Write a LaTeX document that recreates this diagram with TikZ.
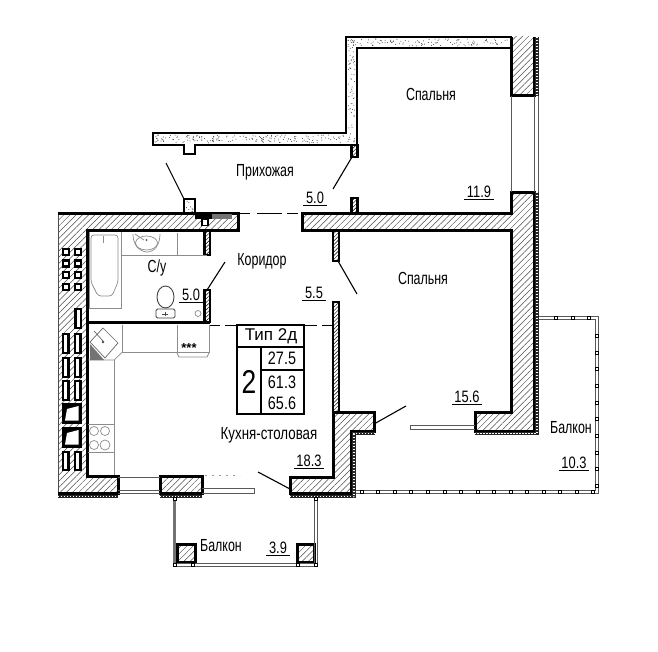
\documentclass[tikz,border=0pt]{standalone}
\usepackage{fontspec}
\setmainfont[FakeStretch=0.71]{Liberation Sans}
\newfontfamily\numfont[FakeStretch=0.78]{Liberation Sans}
\newfontfamily\tabfont[FakeStretch=0.8]{Liberation Sans}
\newfontfamily\kufont[FakeStretch=0.76]{Liberation Sans}
\newfontfamily\tipfont{Liberation Sans}
\usetikzlibrary{patterns.meta}
\tikzset{
  x=1pt,y=-1pt,
  hatching/.style={pattern={Lines[angle=45,distance=4.4pt,line width=.5pt]},pattern color=black!70},
  wall/.style={line width=3pt,line join=miter,hatching},
  thick wall/.style={line width=3pt,line join=miter},
  plain wall/.style={line width=1.6pt,line join=miter,fill=white},
  strip/.style={preaction={draw,line width=3.6pt,black!85,dash pattern=},white,line width=1.5pt,dash pattern=on 1.2pt off 1.8pt},
  fixture/.style={line width=.7pt,black!45},
  winline/.style={line width=.8pt,black!65},
  doorline/.style={line width=1.1pt},
  brick/.style={line width=2.2pt,fill=white},
  room/.style={font=\fontsize{17.5}{17.5}\selectfont,inner sep=0pt},
  area/.style={font=\numfont\fontsize{16.5}{16.5}\selectfont,inner sep=0pt},
  tabnum/.style={font=\tabfont\fontsize{18}{18}\selectfont,inner sep=0pt},
  mark box/.style={line width=.9pt,fill=white},
  table/.style={line width=1.4pt}
}
\newcommand{\areatext}[4]{% name, x, y, text
  \node[area] (#1) at (#2,#3) {#4};
  \draw[line width=.8pt] ([xshift=-2.5pt,yshift=-1pt]#1.south west) -- ([xshift=2.5pt,yshift=-1pt]#1.south east);
}
\begin{document}
\begin{tikzpicture}
\useasboundingbox (0,0) rectangle (658,652);
\fill[white] (0,0) rectangle (658,652);

% concrete walls with speckle
\draw[plain wall] (153,133) -- (346,133) -- (346,37) -- (511,37) -- (511,48) -- (357,48) -- (357,145) -- (195,145) -- (195,154) -- (184,154) -- (184,145) -- (153,145) -- cycle;
\draw[plain wall] (184,213) -- (184,199) -- (195,199) -- (195,213);
\pgfmathsetseed{11}
\foreach \i in {1,...,170}{
  \pgfmathsetmacro{\px}{155+rnd*190}\pgfmathsetmacro{\py}{135+rnd*8}
  \fill[black!75] (\px,\py) circle (.5);
}
\foreach \i in {1,...,70}{
  \pgfmathsetmacro{\px}{348+rnd*7}\pgfmathsetmacro{\py}{40+rnd*102}
  \fill[black!75] (\px,\py) circle (.5);
}
\foreach \i in {1,...,110}{
  \pgfmathsetmacro{\px}{350+rnd*159}\pgfmathsetmacro{\py}{39+rnd*7}
  \fill[black!75] (\px,\py) circle (.5);
}
\foreach \i in {1,...,10}{
  \pgfmathsetmacro{\px}{186+rnd*7}\pgfmathsetmacro{\py}{201+rnd*11}
  \fill[black!75] (\px,\py) circle (.5);
}

% exterior walls: left part
\fill[hatching]
  (58,213) -- (238,213) -- (238,232) -- (86,232) -- (86,476) -- (118,476) -- (118,493) -- (58,493) -- cycle;
\draw[line width=.7pt,black!70] (58,213) -- (58,493);
\draw[thick wall] (58,214) -- (238,214) -- (238,231) -- (87,231) -- (87,322) -- (210,322);
\draw[thick wall] (87,322) -- (87,476) -- (118,476) -- (118,493) -- (58,493);
\draw[strip] (58,496.5) -- (118,496.5);

\draw[wall] (160,476) rectangle (202,493);
\draw[strip] (160,496.5) -- (202,496.5);

% window in kitchen
\draw[winline] (118,477) -- (160,477);
\draw[winline] (118,490) -- (160,490);
\draw[winline] (118,493.5) -- (160,493.5);
\draw[winline] (202,488) -- (254.5,488) -- (254.5,493) -- (202,493);
\draw[black!40,line width=.7pt,dash pattern=on 2pt off 5pt] (205,475.5) -- (240,475.5);

% corridor wall to the right
\fill[hatching]
 (302,213) -- (511,213) -- (511,192) -- (534,192) -- (534,431) -- (475,431) -- (475,412) -- (511,412) -- (511,231) -- (302,231) -- cycle;
\draw[thick wall] (302,231) -- (302,214) -- (511,214) -- (511,192.5) -- (534,192.5) -- (534,431) -- (475,431) -- (475,412) -- (511,412) -- (511,231) -- cycle;
\draw[strip] (537,192) -- (537,433.5) -- (475,433.5);
\draw[wall] (511,37) -- (511,96) -- (534,96) -- (534,37);
\draw[strip] (537,37) -- (537,96);
\draw[winline] (511,96) -- (511,192);
\draw[winline] (534,96) -- (534,192);
\draw[winline] (538.5,96) -- (538.5,192);

% entry opening and dashes
\draw[line width=1pt,dash pattern=on 10pt off 7pt on 25pt off 5pt on 11pt off 30pt] (240,214) -- (298,214);
\draw[line width=1pt,dash pattern=on 10pt off 5pt on 92pt off 5pt on 11pt off 30pt] (210,325) -- (333,325);

% door block in hall wall
\fill[black] (195,213) rectangle (212,219);
\fill[black!55] (212,214) rectangle (232,219);
\draw[line width=1.6pt,fill=white] (202,219.5) rectangle (208,225.5);

% partitions
\foreach \a/\b/\c/\d in {204.5/231/210/255,204.5/290/210/322,333/231/339/261,333/302/339/412,351.5/145/357.5/157,351.5/198/357.5/213}{
  \draw[line width=2.3pt,pattern={Lines[angle=45,distance=2.6pt,line width=.45pt]},pattern color=black] (\a,\b) rectangle (\c,\d);
}

% block at balcony door, lower right
\draw[wall] (333,412) -- (374,412) -- (374,431) -- (351,431) -- (351,493) -- (290,493) -- (290,477) -- (333,477) -- cycle;
\draw[strip] (375,433.5) -- (354,433.5) -- (354,496.5) -- (290,496.5);

% bedroom balcony door
\draw[winline] (410,425) -- (475,425);
\draw[winline] (410,429) -- (475,429);
\draw[winline] (410,425) -- (410,429);

% door leaves
\draw[doorline] (166,163) -- (184,199);
\draw[doorline] (352,157) -- (333,189);
\draw[doorline] (207,290) -- (225,262);
\draw[doorline] (338,261) -- (357,294);
\draw[doorline] (374,424) -- (406,406);
\draw[doorline] (258,472) -- (290,489);

% big balcony
\draw[winline] (356,490.3) -- (595.3,490.3) -- (595.3,319);
\draw[winline] (356,493.3) -- (598.3,493.3) -- (598.3,316);
\draw[winline] (539,316) -- (598.3,316);
\draw[winline] (539,319) -- (595.3,319);
\foreach \i in {0,...,14}{
  \draw[mark box] ({361.7+16.55*\i-1.5},490.3) rectangle ++(3,3);
}
\foreach \y in {336,352.5,369,386,402.5,419,436,453,469,486}{
  \draw[mark box] (595.3,\y-1.5) rectangle ++(3,3);
}
\foreach \x in {556,573,589}{
  \draw[mark box] (\x-1.5,316) rectangle ++(3,3);
}

% small balcony
\draw[wall] (177,544) rectangle (195,562);
\draw[wall] (297,544) rectangle (314,562);
\draw[black!55,line width=2.2pt] (174.5,500) -- (174.5,564);
\draw[winline] (314,500) -- (314,564);
\draw[winline] (317,500) -- (317,564);
\draw[winline] (175,563.3) -- (317,563.3);
\draw[winline] (175,566.3) -- (317,566.3);
\foreach \x/\y in {175/499,315.5/499,175/565,193/565,298/565,316/565}{
  \draw[mark box] (\x-1.5,\y-1.5) rectangle ++(3,3);
}

% bricks
\foreach \x in {63,75}{\foreach \y in {249,260.5,272,284}{
  \draw[line width=2.2pt,fill=white] (\x,\y) rectangle ++(6,6);
}}
\draw[brick] (75.5,309) rectangle (81,328);
\foreach \x in {63,75}{\foreach \y/\h in {334/19,358/19,381/19,452/18}{
  \draw[brick] (\x,\y) rectangle ++(5.5,\h);
}}
\foreach \y in {404,428}{
  \fill[black] (61.5,\y-1) rectangle (82,\y+20);
  \fill[white] (65,\y+16.5) -- (67,\y+5) -- (78.5,\y+2) -- (78.5,\y+16.5) -- cycle;
}

% bath room fixtures
\draw[fixture] (89,232.5) -- (89,308) -- (121,308) -- (121,232.5);
\draw[fixture,rounded corners=3pt] (91,235) -- (91,282) -- (98,296) -- (112,296) -- (118,282) -- (118,235) -- cycle;
\draw[fixture] (103.5,236) -- (103.5,243);
\draw[fixture] (121,255) -- (207,255) (177,233) -- (177,255);
\draw[fixture] (133,234) .. controls (133,250) and (145,252) .. (147,252) .. controls (155,252) and (160,244) .. (160,234);
\draw[fixture] (146.5,243) ellipse (11 and 7);
\fill[black!60] (146.5,240) circle (1.1);
\draw[fixture] (135,234) -- (144,240);
\draw[line width=.9pt,black!75] (165.5,297) ellipse (8.5 and 11);
\draw[line width=.9pt,black!75,rounded corners=1.5pt,fill=white] (156,309) rectangle (175,318);
\draw[black!70,line width=.6pt] (162,314) -- (168,314) (165,311.5) -- (165,316);
\draw[fixture] (198,313.5) circle (3);

% kitchen fixtures
\draw[fixture] (122,325) -- (122,353) (122,352.5) -- (209,352.5) -- (209,325) (177,325) -- (177,353);
\draw[fixture] (114,360) -- (114,475) (88,424.5) -- (114,424.5) (88,452) -- (114,452);
\draw[fixture] (88,360) -- (114,360) -- (122,352.5);
\draw[black!60,line width=.7pt] (90,342) -- (103,328) -- (118,343) -- (105,358) -- cycle;
\draw[black!60,line width=.7pt] (94,331) -- (103,341);
\fill[black!55] (90,344) -- (90,360) -- (104,360) -- cycle;
\fill[black!70] (103,342) circle (1.3);
\draw[fixture] (177,353) -- (179,357) -- (207,357) -- (209,353);
\foreach \x/\y/\r in {94/431/4.5,105/431/4.5,94/445/4.5,105/445/5}{\draw[fixture] (\x,\y) circle (\r);}
\node[inner sep=0pt,font=\tipfont\fontsize{13}{13}\selectfont\bfseries] (stars) at (189,348) {***};

% table
\draw[table] (237,325) rectangle (304,414);
\draw[table] (237,347) -- (304,347);
\draw[table] (261,347) -- (261,414);
\draw[table] (261,370) -- (304,370);
\node[inner sep=0pt,font=\tipfont\fontsize{17}{17}\selectfont] (tip) at (271,336) {Тип 2д};
\node[inner sep=0pt,font=\tabfont\fontsize{33}{33}\selectfont] (two) at (249,382) {2};
\node[tabnum] (a1) at (282,358.5) {27.5};
\node[tabnum] (a2) at (282,382) {61.3};
\node[tabnum] (a3) at (282,403) {65.6};

% labels
\node[room] (s1) at (431,94) {Спальня};
\node[room] (pr) at (265,172) {Прихожая};
\node[room] (ko) at (262,261) {Коридор};
\node[room] (su) at (157,268) {С/у};
\node[room] (s2) at (423,278) {Спальня};
\node[room,font=\kufont\fontsize{17.5}{17.5}\selectfont] (ku) at (269,435) {Кухня-столовая};
\node[room] (b1) at (571,428) {Балкон};
\node[room] (b2) at (221,546) {Балкон};
\areatext{t1}{315}{198}{5.0}
\areatext{t2}{479}{192}{11.9}
\areatext{t3}{191}{295}{5.0}
\areatext{t4}{314}{293}{5.5}
\areatext{t5}{467}{397}{15.6}
\areatext{t6}{309}{461}{18.3}
\areatext{t7}{574}{463}{10.3}
\areatext{t8}{278}{548}{3.9}
\end{tikzpicture}
\end{document}
